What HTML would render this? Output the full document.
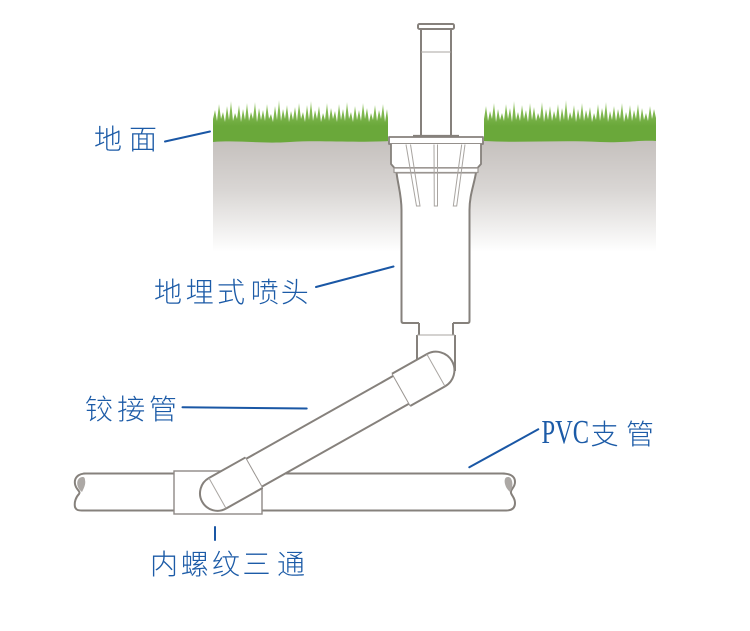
<!DOCTYPE html>
<html>
<head>
<meta charset="utf-8">
<style>
html,body{margin:0;padding:0;background:#fff;}
svg{display:block;}
</style>
</head>
<body>
<svg width="750" height="631" viewBox="0 0 750 631" xmlns="http://www.w3.org/2000/svg">
<defs>
<linearGradient id="soil" x1="0" y1="140" x2="0" y2="252" gradientUnits="userSpaceOnUse">
<stop offset="0" stop-color="#c5c0bd"/>
<stop offset="0.45" stop-color="#d9d6d4"/>
<stop offset="1" stop-color="#ffffff"/>
</linearGradient>
<linearGradient id="grass" x1="0" y1="98" x2="0" y2="126" gradientUnits="userSpaceOnUse">
<stop offset="0" stop-color="#c4e0a8"/>
<stop offset="0.45" stop-color="#86bc56"/>
<stop offset="1" stop-color="#6aa83a"/>
</linearGradient>
</defs>

<!-- grass -->
<path fill="url(#grass)" d="M213,144 L213,119 L215,110 L217,121 L219,104 L221,119 L223,112 L225,122 L227,106 L229,120 L231,101 L233,121 L235,113 L237,119 L239,105 L241,122 L243,109 L245,120 L247,103 L249,121 L251,112 L253,119 L255,102 L257,122 L259,108 L261,120 L263,110 L265,121 L267,104 L269,119 L271,114 L273,122 L275,106 L277,120 L279,100 L281,121 L283,109 L285,119 L287,105 L289,122 L291,111 L293,120 L295,107 L297,121 L299,103 L301,119 L303,112 L305,122 L307,105 L309,120 L311,101 L313,121 L315,110 L317,119 L319,106 L321,122 L323,113 L325,120 L327,103 L329,121 L331,108 L333,119 L335,111 L337,122 L339,104 L341,120 L343,109 L345,121 L347,102 L349,119 L351,112 L353,122 L355,106 L357,120 L359,110 L361,121 L363,103 L365,119 L367,108 L369,122 L371,113 L373,120 L375,105 L377,121 L379,110 L381,119 L383,104 L385,122 L387,109 L388,118 L388,144 Z"/>
<path fill="url(#grass)" d="M484,144 L484,119 L486,106 L488,121 L490,111 L492,119 L494,103 L496,122 L498,109 L500,120 L502,113 L504,121 L506,104 L508,119 L510,108 L512,122 L514,101 L516,120 L518,112 L520,121 L522,105 L524,119 L526,110 L528,122 L530,103 L532,120 L534,107 L536,121 L538,113 L540,119 L542,102 L544,122 L546,109 L548,120 L550,106 L552,121 L554,111 L556,119 L558,104 L560,122 L562,108 L564,120 L566,100 L568,121 L570,112 L572,119 L574,105 L576,122 L578,109 L580,120 L582,103 L584,121 L586,110 L588,119 L590,107 L592,122 L594,113 L596,120 L598,104 L600,121 L602,108 L604,119 L606,102 L608,122 L610,111 L612,120 L614,106 L616,121 L618,109 L620,119 L622,103 L624,122 L626,112 L628,120 L630,105 L632,121 L634,110 L636,119 L638,104 L640,122 L642,108 L644,120 L646,113 L648,121 L650,106 L652,119 L654,109 L656,118 L656,144 Z"/>

<!-- soil -->
<path fill="url(#soil)" d="M213,142 C240,140 260,144 290,142 C320,140 350,143 390,141 L484,141 C520,143 560,140 600,142 C625,143 640,140 656,141 L656,252 L213,252 Z"/>

<g stroke="#86817c" stroke-width="2" fill="#fff" stroke-linejoin="round">
  <!-- riser -->
  <rect x="418" y="24" width="36" height="5" rx="1.5"/>
  <rect x="421" y="29" width="30" height="107"/>
  <line x1="421" y1="52" x2="451" y2="52" stroke="#aaa6a2" stroke-width="1"/>
  <line x1="413" y1="136" x2="459" y2="136" stroke-width="2.2"/>
  <!-- collar -->
  <rect x="389" y="137" width="94" height="7" stroke-width="1.8"/>
  <path d="M391,144 L391,164 L394.5,168 L477.5,168 L481,164 L481,144" stroke-width="1.8"/>
  <!-- lower body -->
  <path d="M396.5,172.5 C398,185 401.5,195 401.5,210 L401.5,321 Q401.5,323 403.5,323 L467.5,323 Q469.5,323 469.5,321 L469.5,210 C469.5,195 474,185 476,172.5 Z"/>
  <rect x="394" y="168" width="84" height="4.5" stroke="#9a9591" stroke-width="1.2"/>
</g>
<!-- ribs -->
<g stroke="#a9a5a1" stroke-width="1" fill="none">
  <path d="M406,144.5 L416.5,206 L420,206 L410.5,144.5"/>
  <path d="M434,144.5 L434.3,206 L437.5,206 L437.5,144.5"/>
  <path d="M465,144.5 L456.7,206 L453.3,206 L461.7,144.5"/>
</g>

<!-- horizontal pipe -->
<g stroke="#86817c" stroke-width="2" fill="#fff" stroke-linecap="round">
  <rect x="80" y="473.5" width="428" height="37" stroke="none"/>
  <line x1="84" y1="473.5" x2="504" y2="473.5"/>
  <line x1="82" y1="510.5" x2="506" y2="510.5"/>
  <path fill="none" d="M86,473.5 C78,473.5 74,478 75,484 C76,490 81,491 79,494 C76,497 74,502 75,507 C76,510 78,510.5 82,510.5"/>
  <path fill="none" d="M502,473.5 C510,473.5 515,476 515,482 C515,488 510,489 511,493 C512,496 515,498 515,503 C515,508 512,510.5 506,510.5"/>
</g>
<path fill="#aca8a5" d="M83,477 C78,477 76,482 78,487 C79,490 81,491 82,492 C84,488 86,484 85,480 C85,478 84,477 83,477 Z"/>
<path fill="#aca8a5" d="M508,477 C505,477 504,480 505,484 C506,488 508,490 510,492 C512,489 513,485 512,481 C511,478 510,477 508,477 Z"/>

<!-- tee -->
<rect x="174" y="471" width="88" height="43" fill="#fff" stroke="#8e8985" stroke-width="1.4"/>

<!-- neck and elbow vertical -->
<g stroke="#86817c" stroke-width="2" fill="#fff">
  <rect x="419" y="322" width="34" height="13" stroke="none"/>
  <line x1="419" y1="323" x2="419" y2="335"/>
  <line x1="453" y1="323" x2="453" y2="335"/>
  <rect x="417" y="335" width="38" height="37" stroke="none"/>
  <line x1="417" y1="335" x2="417" y2="372"/>
  <line x1="455" y1="335" x2="455" y2="371"/>
  <line x1="417" y1="335" x2="455" y2="335" stroke="#aaa6a2" stroke-width="1"/>
</g>

<!-- swing pipe -->
<g transform="translate(217.5,493.3) rotate(-29.4)" stroke="#86817c" stroke-width="2" fill="#fff">
  <rect x="41" y="-16" width="171" height="32" stroke="none"/>
  <line x1="42" y1="-16" x2="210.7" y2="-16"/>
  <line x1="42" y1="16" x2="210.7" y2="16"/>
  <path d="M42,-17.5 L0,-17.5 A17.5,17.5 0 0 0 0,17.5 L42,17.5"/>
  <line x1="42" y1="-17.5" x2="42" y2="17.5" stroke="#9a9591" stroke-width="1"/>
  <line x1="0" y1="-17.5" x2="0" y2="17.5" stroke="#a9a5a1" stroke-width="1"/>
  <path d="M210.7,-18.5 L250.7,-18.5 A18.5,18.5 0 0 1 250.7,18.5 L210.7,18.5"/>
  <line x1="210.7" y1="-18.5" x2="210.7" y2="18.5" stroke="#9a9591" stroke-width="1"/>
  <line x1="250.7" y1="-18.5" x2="250.7" y2="18.5" stroke="#a9a5a1" stroke-width="1"/>
</g>

<!-- leader lines -->
<g stroke="#1a57a5" stroke-width="2" stroke-linecap="round">
  <line x1="165" y1="141.5" x2="210" y2="131.5"/>
  <line x1="316" y1="287" x2="393.5" y2="266.5"/>
  <line x1="182.5" y1="407.3" x2="306.7" y2="408.5"/>
  <line x1="469.3" y1="467.3" x2="538.3" y2="429.3"/>
  <line x1="215" y1="527" x2="215" y2="540"/>
</g>

<!-- labels -->
<g fill="#1c5ba7" font-family="'Liberation Sans','Noto Sans CJK SC',sans-serif" font-size="28" font-weight="300">
  <text x="94 129" y="149">地面</text>
  <text x="154 185.7 217 250.7 280.7" y="302">地埋式喷头</text>
  <text x="85 117.3 149" y="419">铰接管</text>
  <text x="150 180.7 212 242.5 277" y="574">内螺纹三通</text>
  <text x="590.5 626" y="444">支管</text>
</g>
<text transform="translate(541.5,443) scale(0.72,1)" x="0" y="0" fill="#1c5ba7" font-family="'Liberation Serif',serif" font-size="34">PVC</text>
</svg>
</body>
</html>
